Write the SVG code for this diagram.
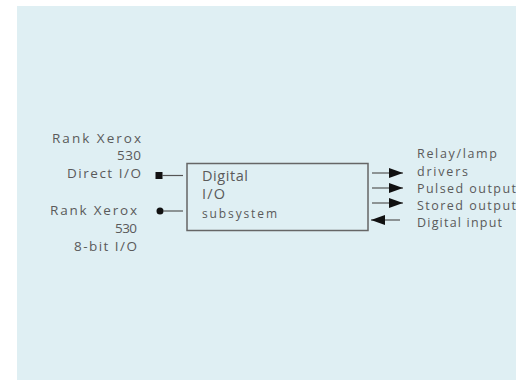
<svg xmlns="http://www.w3.org/2000/svg" width="516" height="387" viewBox="0 0 516 387">
<defs>
<style>
text{font-family:"Open Sans","Liberation Sans",sans-serif;font-size:13.5px;fill:#5a5a5a}
.end{text-anchor:end}
.sm{font-size:12px}
.big{font-size:14.5px}
.out{font-size:12.5px}
.ln{stroke:#555;stroke-width:1.2;fill:none}
</style>
<marker id="ah" viewBox="0 0 14 10" refX="14" refY="5" markerWidth="14" markerHeight="10" markerUnits="userSpaceOnUse" orient="auto">
<path d="M0,0 L14,5 L0,10 Z" fill="#111"/>
</marker>
</defs>
<rect x="0" y="0" width="516" height="387" fill="#ffffff"/>
<rect x="17" y="6" width="499" height="374" fill="#dfeff3"/>
<g id="src1">
<text class="end" x="141" y="143" textLength="89" lengthAdjust="spacing">Rank Xerox</text>
<text class="end" x="141" y="160" textLength="24" lengthAdjust="spacing">530</text>
<text class="end" x="141" y="178" textLength="74" lengthAdjust="spacing">Direct I/O</text>
<rect x="155.5" y="172" width="7" height="7" fill="#111"/>
</g>
<g id="src2">
<text class="end" x="137" y="215" textLength="87" lengthAdjust="spacing">Rank Xerox</text>
<text class="end" x="137" y="233" textLength="22" lengthAdjust="spacing">530</text>
<text class="end" x="137" y="251" textLength="63" lengthAdjust="spacing">8-bit I/O</text>
<circle cx="160" cy="211" r="3.5" fill="#111"/>
</g>
<g id="subsystem">
<rect x="187" y="163.5" width="181" height="67" fill="none" stroke="#666" stroke-width="1.5"/>
<text class="big" x="202" y="181" textLength="46" lengthAdjust="spacing">Digital</text>
<text class="big" x="202" y="199" textLength="23" lengthAdjust="spacing">I/O</text>
<text class="sm" x="202" y="218" textLength="75" lengthAdjust="spacing">subsystem</text>
</g>
<g id="outputs">
<text class="out" x="417" y="158" textLength="80" lengthAdjust="spacing">Relay/lamp</text>
<text class="out" x="417" y="176" textLength="51" lengthAdjust="spacing">drivers</text>
<text class="out" x="417" y="193" textLength="99" lengthAdjust="spacing">Pulsed output</text>
<text class="out" x="417" y="210" textLength="99" lengthAdjust="spacing">Stored output</text>
<text class="out" x="417" y="227" textLength="85" lengthAdjust="spacing">Digital input</text>
</g>
<g id="connectors">
<line class="ln" x1="162" y1="175.5" x2="183" y2="175.5"/>
<line class="ln" x1="163" y1="211" x2="183" y2="211"/>
<line class="ln" x1="372" y1="173" x2="403" y2="173" marker-end="url(#ah)"/>
<line class="ln" x1="372" y1="188" x2="403" y2="188" marker-end="url(#ah)"/>
<line class="ln" x1="372" y1="203" x2="403" y2="203" marker-end="url(#ah)"/>
<line class="ln" x1="400" y1="220" x2="371" y2="220" marker-end="url(#ah)"/>
</g>
</svg>
